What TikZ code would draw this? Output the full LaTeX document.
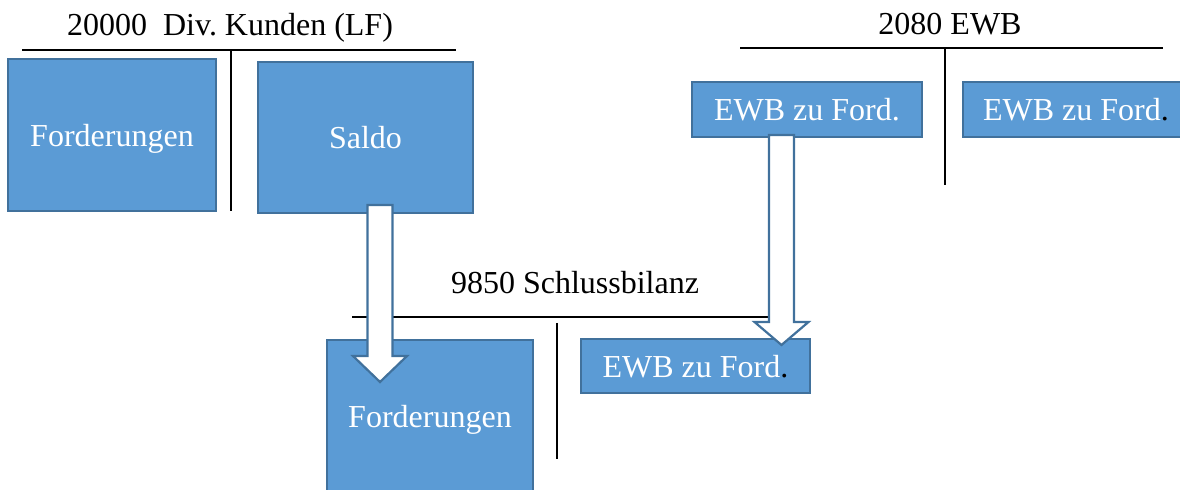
\documentclass[tikz,border=0pt]{standalone}
\usepackage{fontspec}
\setmainfont{Liberation Serif}
\usepackage{tikz}
\usetikzlibrary{calc}
\definecolor{boxblue}{HTML}{5B9BD5}
\definecolor{boxline}{HTML}{41719C}
\newcommand{\blockarrow}[3]{%
  \draw[blockarrow] ($(#1)+(-12.5,0)$) -- ($(#2)+(-12.5,-#3)$) -- ($(#2)+(-27,-#3)$) -- (#2)
    -- ($(#2)+(27,-#3)$) -- ($(#2)+(12.5,-#3)$) -- ($(#1)+(12.5,0)$) -- cycle;}
\begin{document}
\begin{tikzpicture}[x=0.5pt,y=-0.5pt]
            \tikzstyle{every node}+=[inner sep=0pt, font=\fontsize{16}{19}\selectfont]
            \tikzstyle{konto}=[black, line width=1pt]
            \tikzstyle{posten}=[draw=boxline, fill=boxblue, line width=1.1pt, text=white, text depth=0pt]
            \tikzstyle{blockarrow}=[draw=boxline, fill=white, line width=1.1pt, line join=miter]
            \clip (0,0) rectangle (1180,490);
            \node [anchor=base] (kundentitel) at (230,36) {20000\ \ Div.\ Kunden (LF)};
            \draw [konto] (22,50) -- (456,50);
            \draw [konto] (231,50) -- (231,211);
            \node [posten, minimum width=104pt, minimum height=76pt] (ford1) at (112,135) {Forderungen};
            \node [posten, minimum width=107.5pt, minimum height=75.5pt] (saldo) at (365.5,137.5) {Saldo};
            \node [anchor=base] (ewbtitel) at (950,35) {2080 EWB};
            \draw [konto] (740,48) -- (1163,48);
            \draw [konto] (945,48) -- (945,185);
            \node [posten, minimum width=115pt, minimum height=27.5pt] (ewbsoll) at (807,109.5) {EWB zu Ford.};
            \node [posten, minimum width=113pt, minimum height=27.5pt] (ewbhaben) at (1076,109.5) {EWB zu Ford\textcolor{black}{.}};
            \node [anchor=base] (sbtitel) at (575,294) {9850 Schlussbilanz};
            \draw [konto] (352,317) -- (780,317);
            \draw [konto] (557,323) -- (557,459);
            \node [posten, minimum width=103pt, minimum height=76pt] (ford2) at (430,416) {Forderungen};
            \node [posten, minimum width=114.5pt, minimum height=27pt] (ewbsb) at (695.5,366) {EWB zu Ford\textcolor{black}{.}};
            \coordinate (saldoaus) at (380,205);
            \coordinate (fordein) at (380,382);
            \coordinate (ewbaus) at (781.5,135);
            \coordinate (ewbein) at (781.5,345);
            \blockarrow{saldoaus}{fordein}{26}
            \blockarrow{ewbaus}{ewbein}{23}
\end{tikzpicture}
\end{document}
